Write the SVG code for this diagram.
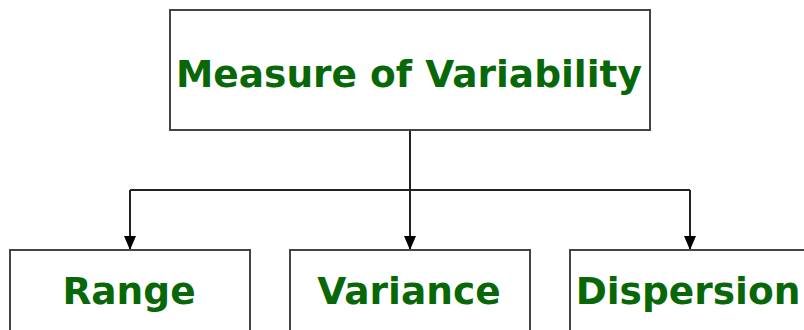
<svg xmlns="http://www.w3.org/2000/svg" width="804" height="330" viewBox="0 0 804 330">
<defs>
<marker id="ah" markerWidth="14" markerHeight="12" refX="14" refY="6" orient="auto" markerUnits="userSpaceOnUse" viewBox="0 0 14 12">
<path d="M0,0 L14,6 L0,12 Z" fill="#000"/>
</marker>
<style>
.box{fill:#fff;stroke:#444;stroke-width:2}
.lbl{font-family:"DejaVu Sans",Verdana,sans-serif;font-weight:bold;fill:#086808;text-anchor:middle;font-size:37.5px}
.con{fill:none;stroke:#222;stroke-width:2}
</style>
</defs>
<rect width="804" height="330" fill="#fff"/>
<g id="connectors">
<path class="con" d="M410,130 V190"/>
<path class="con" d="M130,190 H690"/>
<path class="con" d="M130,190 V250" marker-end="url(#ah)"/>
<path class="con" d="M410,190 V250" marker-end="url(#ah)"/>
<path class="con" d="M690,190 V250" marker-end="url(#ah)"/>
</g>
<g id="root">
<rect class="box" x="170" y="10" width="480" height="120"/>
<text class="lbl" x="409" y="87">Measure of Variability</text>
</g>
<g id="range">
<rect class="box" x="10" y="250" width="240" height="90"/>
<text class="lbl" x="129" y="304">Range</text>
</g>
<g id="variance">
<rect class="box" x="290" y="250" width="240" height="90"/>
<text class="lbl" x="409" y="304">Variance</text>
</g>
<g id="dispersion">
<rect class="box" x="570" y="250" width="250" height="90"/>
<text class="lbl" x="688" y="304">Dispersion</text>
</g>
</svg>
